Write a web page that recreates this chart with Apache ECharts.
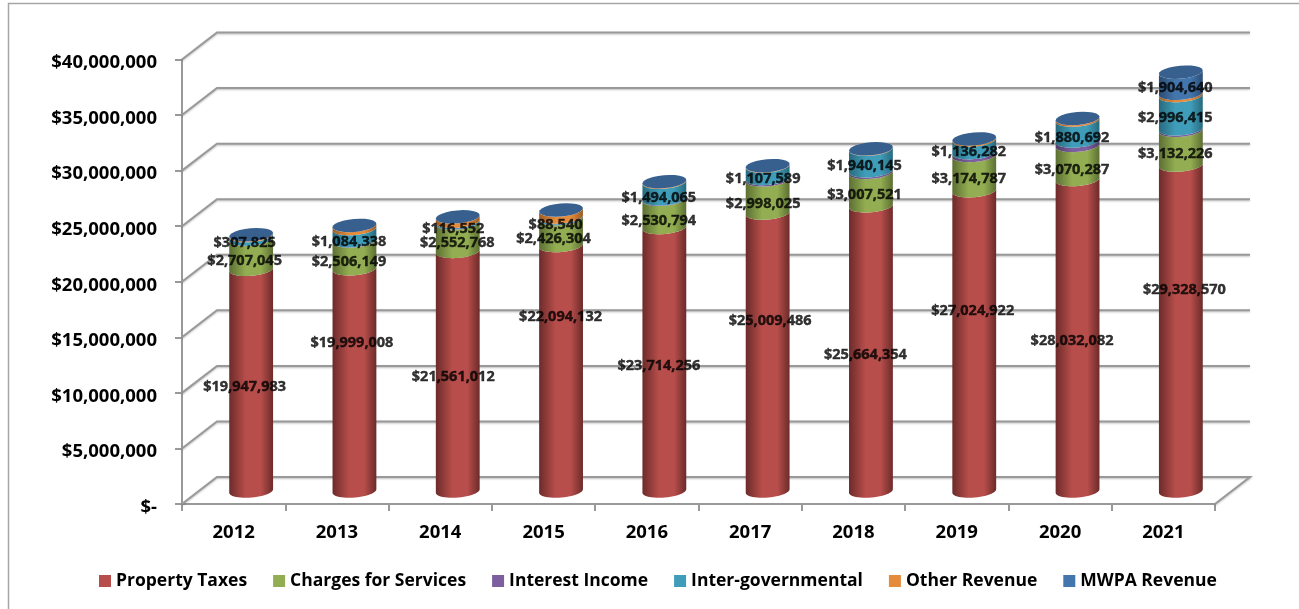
<!DOCTYPE html>
<html><head><meta charset="utf-8">
<style>html,body{margin:0;padding:0;background:#fff}#c{width:1299px;height:609px}</style>
<script src="https://cdn.jsdelivr.net/npm/echarts@6/dist/echarts.min.js"></script>
</head><body><div id="c"></div>
<script>
const years = ['2012','2013','2014','2015','2016','2017','2018','2019','2020','2021'];
const propertyTaxes = [19947983,19999008,21561012,22094132,23714256,25009486,25664354,27024922,28032082,29328570];
const chargesForServices = [2707045,2506149,2552768,2426304,2530794,2998025,3007521,3174787,3070287,3132226];
const interestIncome = [20000,30000,40000,50000,50000,120000,150000,250000,400000,130000];
const interGovernmental = [307825,1084338,116552,88540,1494065,1107589,1940145,1136282,1880692,2996415];
const otherRevenue = [80000,280000,400000,630000,50000,40000,30000,100000,140000,200000];
const mwpaRevenue = [0,0,0,0,0,0,0,0,0,1904640];
const axisTicks = [0,5000000,10000000,15000000,20000000,25000000,30000000,35000000,40000000];

// label nudges in pixels from the segment's point on the front plane: [dx, dy]
const propertyNudge = [[11,-6],[15,-50],[13,-7],[17,-64],[12,-6],[20,-44],[12,-7],[16,-43],[12,-7],[21,-51]];
const chargesNudge = [[11,-6],[12,-6],[17,-7],[10,-6],[12,-6],[13,-6],[11,-7],[12,-7],[12,-6],[12,-7]];
const interNudge = [[11,-7],[12,-6],[13,-6],[12,-6],[12,-6],[13,-6],[11,-7],[12,-7],[12,-6],[12,-7]];
const mwpaNudge = [null,null,null,null,null,null,null,null,null,[12,-8]];

const FONT = 'Open Sans';
const HEAVY = 'bold';
const depthX = 35, depthY = 27;
const barDX = 17.5, barDY = 13, rx = 22, ry = 6.5, tilt = -5 * Math.PI / 180;

const seriesDefs = [
  {name:'Property Taxes', values:propertyTaxes, color:'#B84E4B', edge:'#6C2B2A', nudge:propertyNudge},
  {name:'Charges for Services', values:chargesForServices, color:'#93AE52', edge:'#5C6F33', nudge:chargesNudge},
  {name:'Interest Income', values:interestIncome, color:'#7D5F9F', edge:'#4F3C66', nudge:null},
  {name:'Inter-governmental', values:interGovernmental, color:'#3F9DB9', edge:'#286A7E', nudge:interNudge},
  {name:'Other Revenue', values:otherRevenue, color:'#E58B3C', edge:'#9C5C24', nudge:null},
  {name:'MWPA Revenue', values:mwpaRevenue, color:'#4476AE', edge:'#2B4D74', nudge:mwpaNudge}
];

const base = years.map(() => 0);
const stacks = seriesDefs.map(d => d.values.map((v, i) => { const r = [i, base[i], base[i] + v]; base[i] += v; return r; }));

function arc(cx, cy, from, to) {
  const pts = [], n = 24;
  for (let k = 0; k <= n; k++) {
    const t = from + (to - from) * k / n;
    const lx = rx * Math.cos(t), ly = ry * Math.sin(t);
    pts.push([cx + lx * Math.cos(tilt) - ly * Math.sin(tilt), cy + lx * Math.sin(tilt) + ly * Math.cos(tilt)]);
  }
  return pts;
}
function barCenter(api, i, v) {
  const p = api.coord([i, v]);
  return [p[0] + barDX, p[1] - barDY];
}
function makeRender(def, isTop) {
  return function (params, api) {
    const i = api.value(0), v0 = api.value(1), v1 = api.value(2);
    const children = [];
    const b = barCenter(api, i, v0), t = barCenter(api, i, v1);
    if (v1 > v0) {
      children.push({
        type: 'polygon',
        shape: {points: arc(t[0], t[1], Math.PI, 0).concat(arc(b[0], b[1], 0, Math.PI))},
        style: {fill: new echarts.graphic.LinearGradient(0, 0, 1, 0, [
          {offset: 0, color: def.edge}, {offset: 0.38, color: def.color},
          {offset: 0.72, color: def.color}, {offset: 1, color: def.edge}])}
      });
    }
    if (isTop) {
      children.push({type: 'polygon', shape: {points: arc(t[0], t[1], 0, 2 * Math.PI)}, style: {fill: '#37608F'}});
    }
    return {type: 'group', children};
  };
}

const barSeries = seriesDefs.map((d, idx) => ({
  type: 'custom', name: d.name, coordinateSystem: 'cartesian2d', clip: false, z: 3,
  itemStyle: {color: d.color},
  encode: {x: 0, y: [1, 2]},
  data: stacks[idx],
  renderItem: makeRender(d, idx === seriesDefs.length - 1)
}));

const wallSeries = {
  type: 'custom', name: 'walls', coordinateSystem: 'cartesian2d', clip: false, silent: true, z: 1,
  encode: {y: 0}, data: axisTicks.map(v => [v]),
  renderItem(params, api) {
    const g = params.coordSys, y = api.coord([0, api.value(0)])[1];
    const pts = [[g.x, y], [g.x + depthX, y - depthY], [g.x + g.width + depthX, y - depthY]];
    if (api.value(0) === 0) pts.push([g.x + g.width, y]);
    return {type: 'polyline', shape: {points: pts}, style: {fill: 'none', stroke: '#999999', lineWidth: 2, shadowColor: 'rgba(0,0,0,0.25)', shadowBlur: 2, shadowOffsetY: 1}};
  }
};

const labelData = [];
seriesDefs.forEach((d, idx) => {
  if (!d.nudge) return;
  d.values.forEach((v, i) => {
    if (!d.nudge[i]) return;
    labelData.push({
      value: [i, (stacks[idx][i][1] + stacks[idx][i][2]) / 2],
      amount: v,
      label: {offset: d.nudge[i]}
    });
  });
});
const labelSeries = {
  type: 'scatter', name: 'labels', symbolSize: 0, silent: true, z: 10, clip: false,
  data: labelData,
  label: {show: true, position: 'inside', color: '#000', fontFamily: FONT, fontWeight: HEAVY, fontSize: 14.5,
    textBorderColor: '#000', textBorderWidth: 0.4,
    formatter: p => '$' + p.data.amount.toLocaleString('en-US')}
};

const chart = echarts.init(document.getElementById('c'), null, {renderer: 'canvas'});
chart.setOption({
  animation: false,
  backgroundColor: '#fff',
  graphic: [{type: 'rect', silent: true, shape: {x: 8.5, y: 3.5, width: 1400, height: 800}, style: {fill: 'none', stroke: '#A6A6A6', lineWidth: 1.5}}],
  grid: {left: 182, right: 84, top: 59.5, bottom: 105, containLabel: false},
  legend: {
    data: seriesDefs.map(d => d.name), left: 99, top: 572, padding: 0, itemWidth: 12, itemHeight: 12, itemGap: 26, icon: 'rect',
    textStyle: {fontFamily: FONT, fontWeight: HEAVY, fontSize: 17.5, color: '#000'}
  },
  xAxis: {
    type: 'category', data: years,
    axisLine: {lineStyle: {color: '#999999', width: 2}},
    axisTick: {show: true, length: 7, lineStyle: {color: '#999999', width: 2}},
    axisLabel: {interval: 0, margin: 19, color: '#000', fontFamily: FONT, fontWeight: HEAVY, fontSize: 18.5},
    splitLine: {show: false}
  },
  yAxis: {
    type: 'value', min: 0, max: 40000000, interval: 5000000,
    axisLine: {show: true, lineStyle: {color: '#999999', width: 2}},
    axisTick: {show: true, length: 7, lineStyle: {color: '#999999', width: 2}},
    axisLabel: {margin: 25, verticalAlign: 'top', lineHeight: 7, color: '#000', fontFamily: FONT, fontWeight: HEAVY, fontSize: 18.5,
      formatter: v => v === 0 ? '$-' : '$' + v.toLocaleString('en-US')},
    splitLine: {show: false}
  },
  series: [wallSeries].concat(barSeries, [labelSeries])
});
</script></body></html>
